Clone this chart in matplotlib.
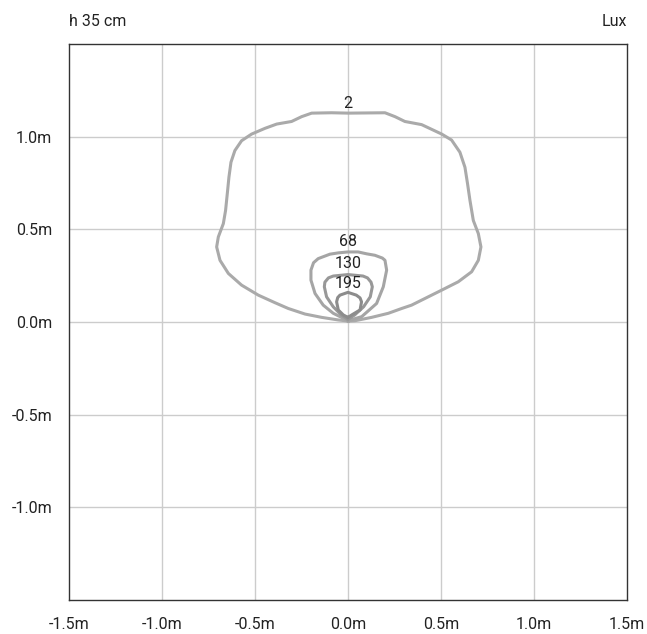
import numpy as np
import matplotlib
matplotlib.use("Agg")
from matplotlib import pyplot as plt

plt.rcParams['font.family'] = ['Roboto', 'DejaVu Sans']

# isolux contours (m), closed by repeating the first point
lux_levels = [2, 68, 130, 195]

c2_x = [0.002, -0.052, -0.141, -0.231, -0.321, -0.392, -0.482, -0.572, -0.643, -0.688,
        -0.706, -0.697, -0.670, -0.658, -0.647, -0.640, -0.629, -0.608, -0.572, -0.518,
        -0.446, -0.383, -0.303, -0.249, -0.195, -0.088, 0.002, 0.199, 0.253, 0.306,
        0.396, 0.504, 0.557, 0.602, 0.629, 0.643, 0.656, 0.665, 0.674, 0.701, 0.715,
        0.701, 0.665, 0.593, 0.504, 0.414, 0.342, 0.289, 0.217, 0.127, 0.038, 0.002]
c2_y = [0.005, 0.011, 0.025, 0.043, 0.073, 0.104, 0.145, 0.199, 0.262, 0.333,
        0.405, 0.459, 0.531, 0.602, 0.710, 0.781, 0.862, 0.925, 0.978, 1.014,
        1.045, 1.068, 1.082, 1.108, 1.127, 1.129, 1.127, 1.129, 1.108, 1.082,
        1.065, 1.014, 0.982, 0.916, 0.835, 0.746, 0.656, 0.602, 0.548, 0.477, 0.405,
        0.333, 0.271, 0.217, 0.172, 0.127, 0.091, 0.073, 0.047, 0.025, 0.007, 0.005]

c68_x = [0.0, -0.025, -0.079, -0.133, -0.177, -0.199, -0.199, -0.185, -0.16, -0.097,
         -0.052, 0.0, 0.055, 0.1, 0.145, 0.185, 0.199, 0.208, 0.19, 0.154, 0.074, 0.0]
c68_y = [0.007, 0.02, 0.047, 0.091, 0.154, 0.226, 0.28, 0.32, 0.342, 0.366,
         0.373, 0.378, 0.378, 0.368, 0.36, 0.345, 0.333, 0.28, 0.19, 0.1, 0.029, 0.007]

c130_x = [0.0, -0.036, -0.079, -0.115, -0.127, -0.124, -0.105, -0.079, 0.0,
          0.081, 0.105, 0.124, 0.131, 0.12, 0.084, 0.036, 0.0]
c130_y = [0.014, 0.038, 0.082, 0.136, 0.19, 0.215, 0.238, 0.248, 0.256,
          0.248, 0.238, 0.215, 0.19, 0.136, 0.082, 0.038, 0.014]

c195_x = [0.0, -0.025, -0.052, -0.061, -0.055, -0.043, 0.0, 0.045, 0.065, 0.073,
          0.065, 0.02, 0.0]
c195_y = [0.025, 0.038, 0.065, 0.109, 0.132, 0.145, 0.16, 0.145, 0.13, 0.109,
          0.065, 0.038, 0.025]

label_y = [1.18, 0.432, 0.315, 0.208]

ticks = [-1.5, -1.0, -0.5, 0.0, 0.5, 1.0, 1.5]
x_ticklabels = ['-1.5m', '-1.0m', '-0.5m', '0.0m', '0.5m', '1.0m', '1.5m']
y_ticks = [-1.0, -0.5, 0.0, 0.5, 1.0]
y_ticklabels = ['-1.0m', '-0.5m', '0.0m', '0.5m', '1.0m']

fig = plt.figure(figsize=(6.47, 6.34), dpi=100)
ax = fig.add_axes([0.1066, 0.0536, 0.8624, 0.877])
ax.set_xlim(-1.5, 1.5)
ax.set_ylim(-1.5, 1.5)

for g in [-1.0, -0.5, 0.0, 0.5, 1.0]:
    ax.axvline(g, color='#cccccc', lw=1, zorder=0)
    ax.axhline(g, color='#cccccc', lw=1, zorder=0)

curves = [(c2_x, c2_y, '#aaaaaa'), (c68_x, c68_y, '#a5a5a5'),
          (c130_x, c130_y, '#989898'), (c195_x, c195_y, '#8c8c8c')]
for (cx, cy, col) in curves:
    ax.plot(cx, cy, color=col, lw=2.2, solid_joinstyle='round', zorder=2)

for lev, ly in zip(lux_levels, label_y):
    ax.text(0.0, ly, str(lev), ha='center', va='center', fontsize=11.5, color='#222222', zorder=3)

ax.set_xticks(ticks)
ax.set_xticklabels(x_ticklabels)
ax.set_yticks(y_ticks)
ax.set_yticklabels(y_ticklabels)
ax.tick_params(length=0, labelsize=11.5, colors='#222222')
ax.tick_params(axis='y', pad=12)
ax.tick_params(axis='x', pad=12)
for s in ax.spines.values():
    s.set_color('#333333')
    s.set_linewidth(1)

fig.text(0.1066, 0.966, 'h 35 cm', ha='left', va='center', fontsize=11.5, color='#222222')
fig.text(0.969, 0.966, 'Lux', ha='right', va='center', fontsize=11.5, color='#222222')

fig.savefig('out.png', dpi=100)
